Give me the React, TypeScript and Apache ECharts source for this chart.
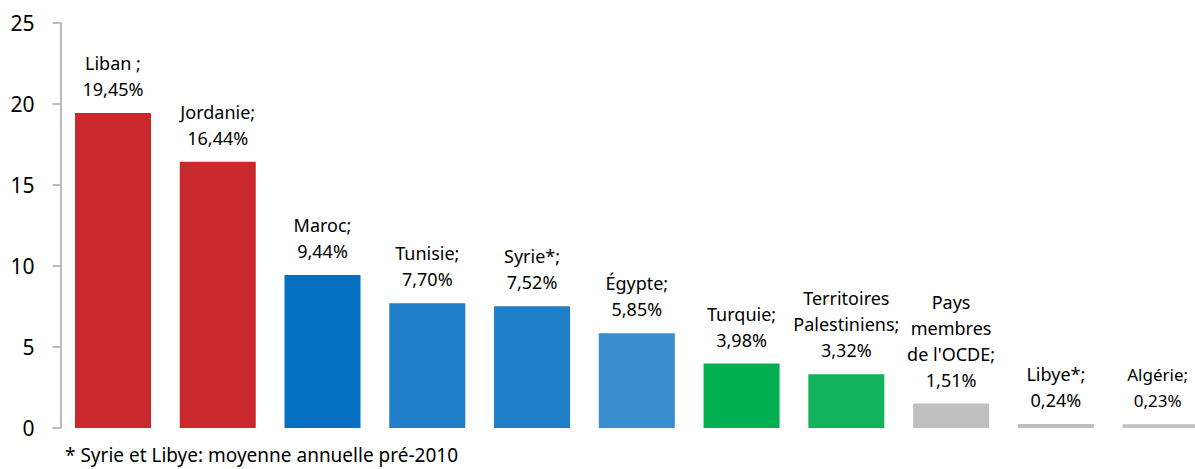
import React, { useEffect, useRef } from "react";
import * as echarts from "echarts";

const categories = [
  "Liban ;",
  "Jordanie;",
  "Maroc;",
  "Tunisie;",
  "Syrie*;",
  "Égypte;",
  "Turquie;",
  "Territoires\nPalestiniens;",
  "Pays\nmembres\nde l'OCDE;",
  "Libye*;",
  "Algérie;",
];
const values = [19.45, 16.44, 9.44, 7.7, 7.52, 5.85, 3.98, 3.32, 1.51, 0.24, 0.23];
const barColors = [
  "#C9292C",
  "#C9292C",
  "#0570C1",
  "#1E7EC7",
  "#1E7EC7",
  "#3A8ECF",
  "#00AF50",
  "#13B35B",
  "#BFBFBF",
  "#BFBFBF",
  "#BFBFBF",
];
const yTicks = [0, 5, 10, 15, 20, 25];
const footnote = "* Syrie et Libye: moyenne annuelle pré-2010";

export default function App() {
  const ref = useRef<HTMLDivElement>(null);
  useEffect(() => {
    if (!ref.current) return;
    const chart = echarts.init(ref.current, null, { renderer: "svg" });
    const font = "'Noto Sans', sans-serif";
    const last = values.length - 1;
    chart.setOption({
      animation: false,
      backgroundColor: "#ffffff",
      grid: { left: 60.6, top: 23, right: 0, bottom: 41, containLabel: false },
      xAxis: {
        type: "category",
        data: categories,
        show: false,
      },
      yAxis: {
        type: "value",
        min: yTicks[0],
        max: yTicks[yTicks.length - 1],
        interval: 5,
        splitLine: { show: false },
        axisLine: { show: true, lineStyle: { color: "#A6A6A6", width: 1.5 } },
        axisTick: { show: true, length: 8, lineStyle: { color: "#A6A6A6", width: 1.5 } },
        axisLabel: { color: "#000", fontSize: 21, fontFamily: font, margin: 26 },
      },
      series: [
        {
          type: "bar",
          barWidth: 76,
          data: values.map((v, i) => ({
            value: v,
            itemStyle: { color: barColors[i] },
            ...(i === last ? { label: { fontSize: 17, offset: [-3, 0] } } : {}),
          })),
          label: {
            show: true,
            position: "top",
            distance: 11,
            color: "#000",
            fontSize: 18,
            fontFamily: font,
            lineHeight: 26,
            align: "center",
            formatter: (p: any) =>
              categories[p.dataIndex] + "\n" + values[p.dataIndex].toFixed(2).replace(".", ",") + "%",
          },
        },
      ],
      graphic: [
        {
          type: "text",
          x: 65,
          y: 455,
          style: {
            text: footnote,
            fill: "#000",
            fontSize: 19,
            lineHeight: 24,
            fontFamily: font,
            verticalAlign: "middle",
          },
        },
      ],
    });
    return () => chart.dispose();
  }, []);
  return (
    <div
      style={{
        position: "fixed",
        left: 0,
        top: 0,
        width: 1195,
        height: 469,
        overflow: "hidden",
        background: "#fff",
      }}
    >
      <div ref={ref} style={{ width: 1213.4, height: 469 }} />
    </div>
  );
}
